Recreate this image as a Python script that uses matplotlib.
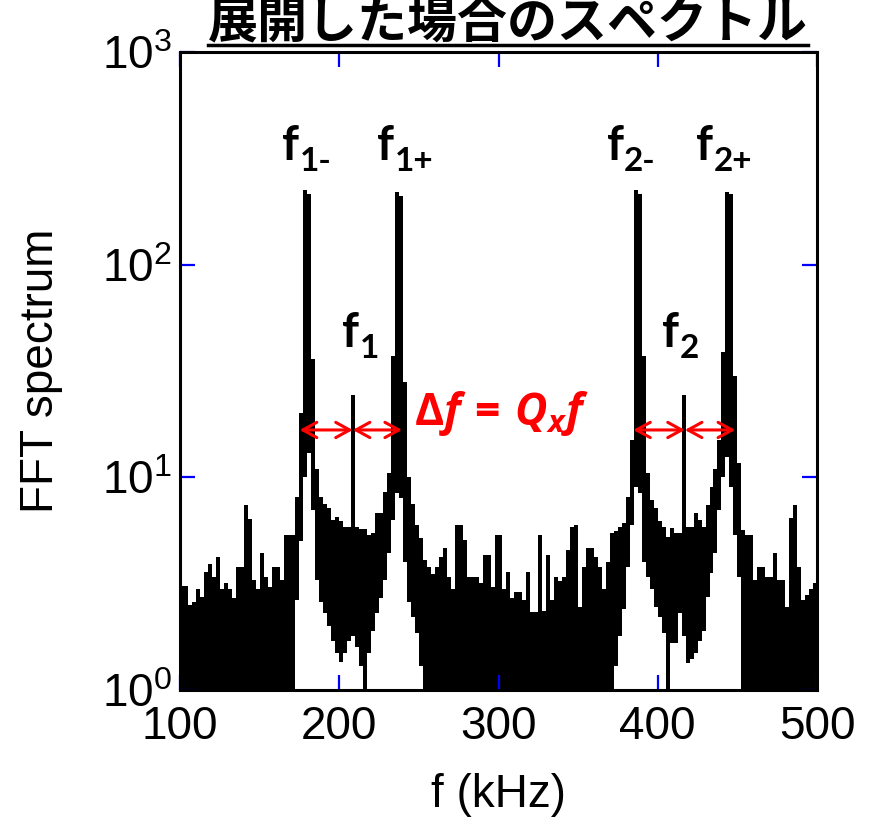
import numpy as np
import matplotlib
matplotlib.use("Agg")
import matplotlib.pyplot as plt
from matplotlib.lines import Line2D

plt.rcParams['font.family'] = ['Liberation Sans', 'DejaVu Sans']
plt.rcParams['mathtext.fontset'] = 'custom'
plt.rcParams['mathtext.rm'] = 'Liberation Sans'
plt.rcParams['mathtext.it'] = 'Open Sans:italic:bold'
plt.rcParams['mathtext.sf'] = 'Open Sans:bold'

# FFT spectrum, 2.5 kHz bins from 100 to 500 kHz.
# The trace oscillates between an upper and a lower envelope in each bin.
bin_width = 2.5
f_start = 100.0
upper = [
    3.1, 3.1, 2.5, 2.6, 3.0, 2.75, 3.6, 3.9, 3.4, 4.2,
    3.0, 3.2, 3.0, 2.7, 3.8, 3.8, 7.4, 6.4, 3.3, 3.0,
    4.4, 3.4, 3.05, 3.8, 3.8, 3.3, 5.35, 5.35, 5.35, 8.1,
    20, 225, 215, 36, 11, 8.1, 7.5, 7.2, 6.3, 6.5,
    6.2, 5.85, 5.85, 24.5, 5.85, 5.7, 5.7, 5.35, 5.5, 6.8,
    6.8, 8.5, 10.5, 37, 220, 210, 28, 10, 7.5, 6.0,
    5.2, 4.1, 3.8, 3.5, 3.8, 4.2, 4.65, 3.4, 3.0, 6.0,
    6.0, 5.1, 3.4, 3.4, 3.4, 3.2, 4.3, 4.3, 3.05, 5.35,
    5.35, 3.0, 3.6, 2.7, 2.9, 2.9, 2.65, 3.6, 2.33, 2.33,
    5.35, 2.35, 4.3, 2.65, 3.4, 3.25, 3.4, 4.55, 5.85, 6.0,
    2.45, 3.8, 4.65, 4.65, 4.2, 3.8, 3.0, 4.0, 5.5, 5.6,
    5.85, 6.1, 8.1, 15, 225, 215, 37, 10.5, 7.8, 7.2,
    6.2, 5.85, 5.25, 5.75, 5.5, 5.5, 24.5, 5.85, 5.85, 6.8,
    6.3, 5.85, 7.4, 9.0, 11, 15, 39, 220, 215, 30,
    11.7, 5.66, 5.35, 5.35, 3.3, 3.8, 3.8, 3.4, 3.4, 4.4,
    3.3, 3.3, 2.45, 6.45, 7.4, 3.8, 2.65, 2.8, 3.0, 3.2,
]
lower = [
    0.5, 0.5, 0.5, 0.5, 0.5, 0.5, 0.5, 0.5, 0.5, 0.5,
    0.5, 0.5, 0.5, 0.5, 0.5, 0.5, 0.5, 0.5, 0.5, 0.5,
    0.5, 0.5, 0.5, 0.5, 0.5, 0.5, 0.5, 0.5, 0.5, 2.65,
    5, 10, 13, 7, 3.3, 2.6, 2.3, 2.0, 1.7, 1.5,
    1.35, 1.5, 1.7, 1.8, 1.6, 1.3, 0.5, 1.5, 1.9, 2.3,
    2.7, 3.3, 4.4, 6.3, 8.4, 8, 4, 2.6, 2.2, 1.85,
    1.3, 0.5, 0.5, 0.5, 0.5, 0.5, 0.5, 0.5, 0.5, 0.5,
    0.5, 0.5, 0.5, 0.5, 0.5, 0.5, 0.5, 0.5, 0.5, 0.5,
    0.5, 0.5, 0.5, 0.5, 0.5, 0.5, 0.5, 0.5, 0.5, 0.5,
    0.5, 0.5, 0.5, 0.5, 0.5, 0.5, 0.5, 0.5, 0.5, 0.5,
    0.5, 0.5, 0.5, 0.5, 0.5, 0.5, 0.5, 0.5, 0.5, 1.3,
    1.8, 2.4, 3.8, 6, 9, 8.4, 4, 3.4, 3.0, 2.45,
    2.2, 1.85, 0.5, 1.66, 1.66, 2.3, 1.8, 1.34, 1.4, 1.5,
    1.7, 1.9, 2.75, 3.55, 4.4, 7, 10, 12.5, 9, 5.35,
    3.4, 0.5, 0.5, 0.5, 0.5, 0.5, 0.5, 0.5, 0.5, 0.5,
    0.5, 0.5, 0.5, 0.5, 0.5, 0.5, 0.5, 0.5, 0.5, 0.5,
]

# Peak labels: (subscript, frequency kHz at the end of the "f", baseline value)
peak_labels = [
    ('1-', 175.0, 310),
    ('1+', 234.5, 310),
    ('1', 212.5, 41),
    ('2-', 378.5, 310),
    ('2+', 435.0, 310),
    ('2', 413.5, 41),
]
# Sideband spacing arrows: (lower sideband, carrier, upper sideband) in kHz
sideband_sets = [(175.2, 208.5, 239.4), (384.6, 417.0, 448.6)]
arrow_level = 16.7

x_ticks = [100, 200, 300, 400, 500]
y_ticks = [1, 10, 100, 1000]
y_tick_labels = [r'$\mathrm{10^{0}}$', r'$\mathrm{10^{1}}$',
                 r'$\mathrm{10^{2}}$', r'$\mathrm{10^{3}}$']

fig = plt.figure(figsize=(8.69, 8.21), dpi=100)
ax = fig.add_axes([180 / 869, 131 / 821, 637 / 869, 638 / 821])

edges = f_start + bin_width * np.arange(len(upper) + 1)
ax.stairs(upper, edges, baseline=lower, fill=True, color='black', lw=0)

ax.set_yscale('log')
ax.set_xlim(100, 500)
ax.set_ylim(1, 1000)
ax.set_xticks(x_ticks)
ax.set_xticklabels([str(t) for t in x_ticks])
ax.set_yticks(y_ticks)
ax.set_yticklabels(y_tick_labels)
ax.minorticks_off()
ax.tick_params(axis='both', which='major', direction='in', length=11,
               width=1.6, color='#0000ff', labelsize=33, top=True, right=True)
ax.tick_params(axis='x', pad=11)
ax.tick_params(axis='y', pad=6)
for sp in ax.spines.values():
    sp.set_linewidth(2.2)
    sp.set_color('black')

ax.set_xlabel('f (kHz)', fontsize=33, labelpad=17)
ax.set_ylabel('FFT spectrum', fontsize=33, labelpad=28)

lab_font = ['Lato', 'DejaVu Sans']
for sub, fx, fy in peak_labels:
    ax.text(fx, fy, 'f', fontsize=34, fontweight='bold', family=lab_font,
            ha='right', va='baseline', color='black')
    ax.annotate(sub, xy=(fx, fy), xytext=(0.5, -8), textcoords='offset points',
                fontsize=24, fontweight='bold', family=lab_font,
                ha='left', va='baseline', color='black')

for lo, mid, hi in sideband_sets:
    for a, b in ((lo, mid), (mid, hi)):
        ax.annotate('', xy=(a, arrow_level), xytext=(b, arrow_level),
                    arrowprops=dict(arrowstyle='<->,head_length=1.0,head_width=0.55',
                                    color='red', lw=2.2, shrinkA=0, shrinkB=0))

ax.text(302, 17.7, r'$\mathsf{\Delta}\mathit{f}\,\mathsf{=}\,\mathit{Q_{x}f}$',
        fontsize=32, color='red', ha='center', va='baseline')

# Title with underline, partly above the canvas
fig.text(508 / 869, 1 - 37 / 821, '展開した場合のスペクトル', fontsize=36,
         fontweight='bold', ha='center', va='baseline',
         family=['Noto Sans CJK JP', 'DejaVu Sans'])
fig.add_artist(Line2D([208 / 869, 808 / 869], [1 - 45 / 821, 1 - 45 / 821],
                      color='black', lw=2.5, transform=fig.transFigure))

fig.savefig('out.png', dpi=100)
